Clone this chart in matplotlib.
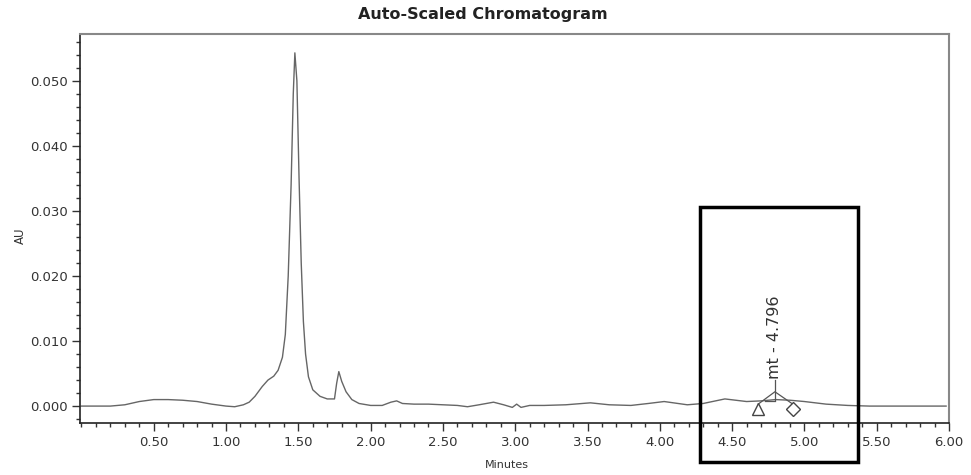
import numpy as np
import matplotlib
matplotlib.use("Agg")
import matplotlib.pyplot as plt
from matplotlib.patches import Rectangle
from matplotlib.ticker import MultipleLocator, FormatStrFormatter

# chromatogram trace (minutes, AU)
minutes = [0.00, 0.10, 0.20, 0.30, 0.40, 0.50, 0.60, 0.70, 0.80, 0.90,
           1.00, 1.06, 1.12, 1.16, 1.20, 1.25, 1.29, 1.33, 1.36, 1.39,
           1.41, 1.43, 1.45, 1.465, 1.476, 1.49, 1.505, 1.52, 1.535, 1.55,
           1.57, 1.60, 1.65, 1.70, 1.75, 1.765, 1.78, 1.80, 1.83, 1.87,
           1.92, 2.00, 2.08, 2.14, 2.18, 2.22, 2.30, 2.40, 2.50, 2.60,
           2.67, 2.75, 2.85, 2.92, 2.98, 3.01, 3.04, 3.10, 3.20, 3.35,
           3.52, 3.65, 3.80, 3.92, 4.03, 4.19, 4.30, 4.45, 4.60, 4.70,
           4.80, 4.90, 5.00, 5.15, 5.30, 5.45, 5.60, 5.80, 5.98]
au = [0.0000, 0.0000, 0.0000, 0.0002, 0.0007, 0.0010, 0.0010, 0.0009, 0.0007, 0.0003,
      0.0000, -0.0001, 0.0002, 0.0006, 0.0015, 0.0030, 0.0040, 0.0046, 0.0055, 0.0075,
      0.0110, 0.0200, 0.0340, 0.0480, 0.0543, 0.0500, 0.0350, 0.0220, 0.0130, 0.0080,
      0.0045, 0.0025, 0.0015, 0.0011, 0.0011, 0.0035, 0.0053, 0.0038, 0.0022, 0.0010,
      0.0004, 0.0001, 0.0001, 0.0006, 0.0008, 0.0004, 0.0003, 0.0003, 0.0002, 0.0001,
      -0.0001, 0.0002, 0.0006, 0.0002, -0.0002, 0.0003, -0.0002, 0.0001, 0.0001, 0.0002,
      0.0005, 0.0002, 0.0001, 0.0004, 0.0007, 0.0002, 0.0004, 0.0011, 0.0007, 0.0008,
      0.0010, 0.0009, 0.0007, 0.0003, 0.0001, 0.0000, 0.0000, 0.0000, 0.0000]

peak_label = "mt - 4.796"
peak_rt = 4.796
peak_start = 4.68
peak_end = 4.92

plt.rcParams['font.family'] = ['DejaVu Sans']
fig = plt.figure(figsize=(9.71, 4.75), dpi=100)
W, H = 971, 475
ax = fig.add_axes([80 / W, 1 - 423 / H, (949 - 80) / W, (423 - 34) / H])

ax.plot(minutes, au, color='#666666', lw=1.0)

# peak markers and label
ax.plot([peak_start, peak_rt, peak_end], [0.0003, 0.0022, 0.0003], color='#555555', lw=0.9)
ax.plot([peak_rt, peak_rt], [0.0010, 0.0040], color='#555555', lw=0.9)
ax.plot([peak_start + 0.05, peak_rt], [0.0008, 0.0008], color='#555555', lw=0.9)
ax.plot([peak_start], [-0.0005], marker='^', ms=8, mfc='white', mec='#444444', mew=1.0)
ax.plot([peak_end], [-0.0005], marker='D', ms=7, mfc='white', mec='#444444', mew=1.0)
ax.text(peak_rt, 0.0041, peak_label, rotation=90, ha='center', va='bottom',
        fontsize=11.5, color='#333333')

ax.set_xlim(-0.01, 6.0)
ax.set_ylim(-0.0026, 0.0572)
ax.xaxis.set_major_locator(MultipleLocator(0.5))
ax.xaxis.set_minor_locator(MultipleLocator(0.1))
ax.yaxis.set_major_locator(MultipleLocator(0.01))
ax.yaxis.set_minor_locator(MultipleLocator(0.002))
ax.xaxis.set_major_formatter(FormatStrFormatter('%.2f'))
ax.yaxis.set_major_formatter(FormatStrFormatter('%.3f'))
ax.set_xticks([0.5, 1.0, 1.5, 2.0, 2.5, 3.0, 3.5, 4.0, 4.5, 5.0, 5.5, 6.0])
ax.tick_params(which='major', direction='out', length=6, width=1, colors='#333333', labelsize=9.5, pad=3)
ax.tick_params(which='minor', direction='out', length=3, width=1, colors='#333333')
for s in ['top', 'right']:
    ax.spines[s].set_color('#888888')
    ax.spines[s].set_linewidth(1.5)
for s in ['left', 'bottom']:
    ax.spines[s].set_color('#222222')
    ax.spines[s].set_linewidth(1.2)

fig.text(483 / W, 1 - 14 / H, "Auto-Scaled Chromatogram", ha='center', va='center',
         fontsize=11.5, fontweight='bold', color='#222222')
fig.text(20 / W, 1 - 236 / H, "AU", rotation=90, ha='center', va='center',
         fontsize=8.5, color='#333333')
fig.text(507 / W, 1 - 465 / H, "Minutes", ha='center', va='center',
         fontsize=8, color='#333333')

# highlight box
fig.add_artist(Rectangle((700 / W, 1 - 462 / H), (858 - 700) / W, (462 - 207) / H,
                         transform=fig.transFigure, fill=False, ec='black', lw=2.5))

fig.savefig("out.png", dpi=100)
